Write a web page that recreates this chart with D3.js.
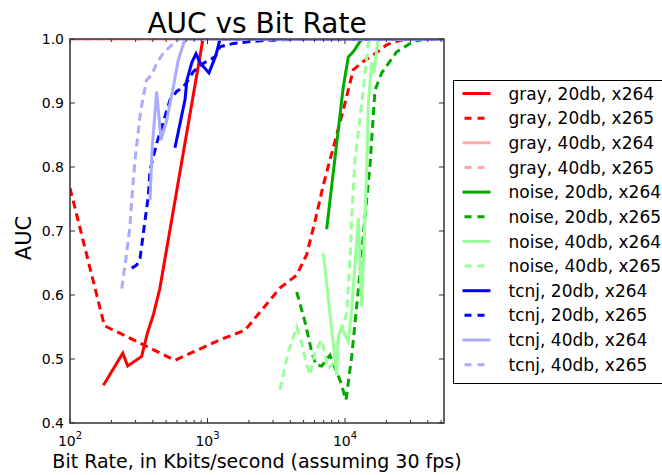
<!DOCTYPE html>
<html>
<head>
<meta charset="utf-8">
<script src="https://cdn.jsdelivr.net/npm/d3@7"></script>
<style>
  body { margin: 0; background: #fff; }
  text { font-family: "DejaVu Sans", sans-serif; fill: #000; }
</style>
</head>
<body>
<svg id="chart"></svg>
<script>
// Series values: [bit rate in Kbits/s, AUC]
const gray20x264 = [[175, 0.459], [242, 0.509], [263, 0.489], [332, 0.504], [365, 0.540], [404, 0.569], [450, 0.610], [927, 1.0], [52500, 1.0]];
const gray20x265 = [[100, 0.767], [178, 0.552], [580, 0.498], [788, 0.511], [1233, 0.530], [1874, 0.545], [3366, 0.611], [4454, 0.631], [5265, 0.663], [6051, 0.715], [6957, 0.772], [7776, 0.811], [9720, 0.889], [11490, 0.952], [13590, 0.965], [16060, 0.975], [20100, 0.991], [25120, 0.998], [30000, 1.0], [52500, 1.0]];
const gray40x264 = [[100, 1.0], [1000, 1.0], [10000, 1.0], [52500, 1.0]];
const gray40x265 = [[100, 1.0], [1000, 1.0], [10000, 1.0], [52500, 1.0]];
const noise20x264 = [[7356, 0.703], [9720, 0.925], [10570, 0.972], [11490, 0.980], [12850, 0.996], [13460, 1.0], [52500, 1.0]];
const noise20x265 = [[4454, 0.605], [5118, 0.558], [5726, 0.511], [6152, 0.491], [6772, 0.489], [7776, 0.506], [9197, 0.467], [10170, 0.436], [11190, 0.504], [11820, 0.556], [12500, 0.608], [13970, 0.722], [15200, 0.803], [16520, 0.920], [18490, 0.947], [23770, 0.980], [31400, 0.996], [39300, 1.0], [52500, 1.0]];
const noise40x264 = [[6957, 0.665], [8705, 0.475], [8940, 0.535], [9460, 0.550], [10000, 0.538], [10570, 0.527], [11190, 0.577], [12500, 0.720], [13230, 0.582], [14380, 0.795], [14770, 0.900], [15640, 0.963], [16250, 0.947], [17380, 1.0], [52500, 1.0]];
const noise40x265 = [[3366, 0.452], [3870, 0.511], [4454, 0.550], [4842, 0.525], [5265, 0.491], [5562, 0.475], [6051, 0.511], [6772, 0.530], [7158, 0.506], [7565, 0.485], [8222, 0.493], [8940, 0.530], [10290, 0.571], [10870, 0.655], [11190, 0.722], [11820, 0.811], [13590, 0.920], [14770, 0.993], [15200, 1.0], [52500, 1.0]];
const tcnj20x264 = [[580, 0.830], [686, 0.905], [709, 0.936], [771, 0.964], [825, 0.977], [882, 0.963], [1025, 0.947], [1153, 0.975], [1233, 1.0], [52500, 1.0]];
const tcnj20x265 = [[281, 0.642], [306, 0.647], [323, 0.657], [338, 0.689], [357, 0.728], [371, 0.754], [382, 0.795], [427, 0.837], [451, 0.853], [534, 0.905], [597, 0.918], [667, 0.925], [725, 0.936], [788, 0.949], [932, 0.962], [1134, 0.972], [1233, 0.988], [1540, 0.993], [2037, 0.996], [2696, 0.998], [4706, 1.0], [52500, 1.0]];
const tcnj40x264 = [[382, 0.748], [395, 0.827], [427, 0.918], [459, 0.842], [505, 0.873], [564, 0.925], [613, 0.967], [686, 1.0], [52500, 1.0]];
const tcnj40x265 = [[238, 0.610], [258, 0.665], [273, 0.707], [281, 0.748], [297, 0.811], [323, 0.879], [341, 0.910], [361, 0.936], [393, 0.944], [427, 0.962], [477, 0.978], [564, 0.993], [613, 1.0], [52500, 1.0]];

const seriesLabels = [
    "gray, 20db, x264", "gray, 20db, x265", "gray, 40db, x264", "gray, 40db, x265",
    "noise, 20db, x264", "noise, 20db, x265", "noise, 40db, x264", "noise, 40db, x265",
    "tcnj, 20db, x264", "tcnj, 20db, x265", "tcnj, 40db, x264", "tcnj, 40db, x265"
];
const seriesValues = [
    gray20x264, gray20x265, gray40x264, gray40x265,
    noise20x264, noise20x265, noise40x264, noise40x265,
    tcnj20x264, tcnj20x265, tcnj40x264, tcnj40x265
];
const seriesColors = [
    "#ff0000", "#ff0000", "#ffaaaa", "#ffaaaa",
    "#00aa00", "#00aa00", "#99ff99", "#99ff99",
    "#0000ff", "#0000ff", "#aaaaff", "#aaaaff"
];
const seriesDashed = [false, true, false, true, false, true, false, true, false, true, false, true];

const xDomain = [100, 52500];
const yDomain = [0.4, 1.0];
const yTicks = [0.4, 0.5, 0.6, 0.7, 0.8, 0.9, 1.0];
const xMajorTicks = [100, 1000, 10000];
const xTickExponents = ["2", "3", "4"];

// Chart dimensions
const W = 662, H = 475;
const margin = { top: 39, right: 218, bottom: 52, left: 70 };
const width = W - margin.left - margin.right;
const height = H - margin.top - margin.bottom;

const svg = d3.select("#chart")
    .attr("width", W)
    .attr("height", H);

const g = svg.append("g")
    .attr("transform", `translate(${margin.left},${margin.top})`);

// scales
const x = d3.scaleLog().domain(xDomain).range([0, width]);
const y = d3.scaleLinear().domain(yDomain).range([height, 0]);

g.append("clipPath")
    .attr("id", "plot-clip")
    .append("rect")
    .attr("width", width)
    .attr("height", height);

const line = d3.line()
    .x(d => x(d[0]))
    .y(d => y(d[1]));

// lines
g.append("g")
    .attr("clip-path", "url(#plot-clip)")
    .selectAll("path")
    .data(seriesValues)
    .enter()
    .append("path")
    .attr("d", line)
    .attr("fill", "none")
    .attr("stroke", (d, i) => seriesColors[i])
    .attr("stroke-width", 3)
    .attr("stroke-dasharray", (d, i) => seriesDashed[i] ? "8,5" : null);

// minor ticks on the log axis
const xMinor = x.ticks().filter(t => !xMajorTicks.includes(t));

// inward ticks on all four sides
const ticks = g.append("g").attr("stroke", "#333").attr("stroke-width", 1);
xMajorTicks.forEach(t => {
    ticks.append("line").attr("x1", x(t)).attr("x2", x(t)).attr("y1", height).attr("y2", height - 5);
    ticks.append("line").attr("x1", x(t)).attr("x2", x(t)).attr("y1", 0).attr("y2", 5);
});
xMinor.forEach(t => {
    ticks.append("line").attr("x1", x(t)).attr("x2", x(t)).attr("y1", height).attr("y2", height - 3);
    ticks.append("line").attr("x1", x(t)).attr("x2", x(t)).attr("y1", 0).attr("y2", 3);
});
yTicks.forEach(t => {
    ticks.append("line").attr("x1", 0).attr("x2", 5).attr("y1", y(t)).attr("y2", y(t));
    ticks.append("line").attr("x1", width).attr("x2", width - 5).attr("y1", y(t)).attr("y2", y(t));
});

// frame
g.append("rect")
    .attr("width", width)
    .attr("height", height)
    .attr("fill", "none")
    .attr("stroke", "#333")
    .attr("stroke-width", 1.5);

// y tick labels
g.selectAll(".y-label")
    .data(yTicks)
    .enter()
    .append("text")
    .attr("x", -6)
    .attr("y", d => y(d))
    .attr("dy", "0.36em")
    .attr("text-anchor", "end")
    .style("font-size", "14px")
    .text(d => d.toFixed(1));

// x tick labels: 10^n
const xLabels = g.selectAll(".x-label")
    .data(xMajorTicks)
    .enter()
    .append("text")
    .attr("x", d => x(d))
    .attr("y", height + 23)
    .attr("text-anchor", "middle")
    .style("font-size", "14px");
xLabels.append("tspan").text("10");
xLabels.append("tspan")
    .attr("dy", -7)
    .style("font-size", "10px")
    .text((d, i) => xTickExponents[i]);

// title
svg.append("text")
    .attr("x", margin.left + width / 2)
    .attr("y", 33)
    .attr("text-anchor", "middle")
    .style("font-size", "28px")
    .text("AUC vs Bit Rate");

// X-axis label
svg.append("text")
    .attr("x", margin.left + width / 2)
    .attr("y", 468)
    .attr("text-anchor", "middle")
    .style("font-size", "19px")
    .text("Bit Rate, in Kbits/second (assuming 30 fps)");

// Y-axis label
svg.append("text")
    .attr("transform", `translate(31,238) rotate(-90)`)
    .attr("text-anchor", "middle")
    .style("font-size", "21px")
    .text("AUC");

// legend
const legend = svg.append("g").attr("transform", "translate(453.5,80.5)");
legend.append("rect")
    .attr("width", 240)
    .attr("height", 303)
    .attr("fill", "#fff")
    .attr("stroke", "#000")
    .attr("stroke-width", 1);

const rowY = i => 13 + i * 24.65;
const items = legend.selectAll(".legend-item")
    .data(seriesLabels)
    .enter()
    .append("g")
    .attr("class", "legend-item")
    .attr("transform", (d, i) => `translate(0,${rowY(i)})`);

items.append("line")
    .attr("x1", 9)
    .attr("x2", 37)
    .attr("stroke", (d, i) => seriesColors[i])
    .attr("stroke-width", 3)
    .attr("stroke-dasharray", (d, i) => seriesDashed[i] ? "7,6" : null)
    .attr("stroke-dashoffset", -2);

items.append("text")
    .attr("x", 55)
    .attr("dy", "0.36em")
    .style("font-size", "17px")
    .text(d => d);
</script>
</body>
</html>
